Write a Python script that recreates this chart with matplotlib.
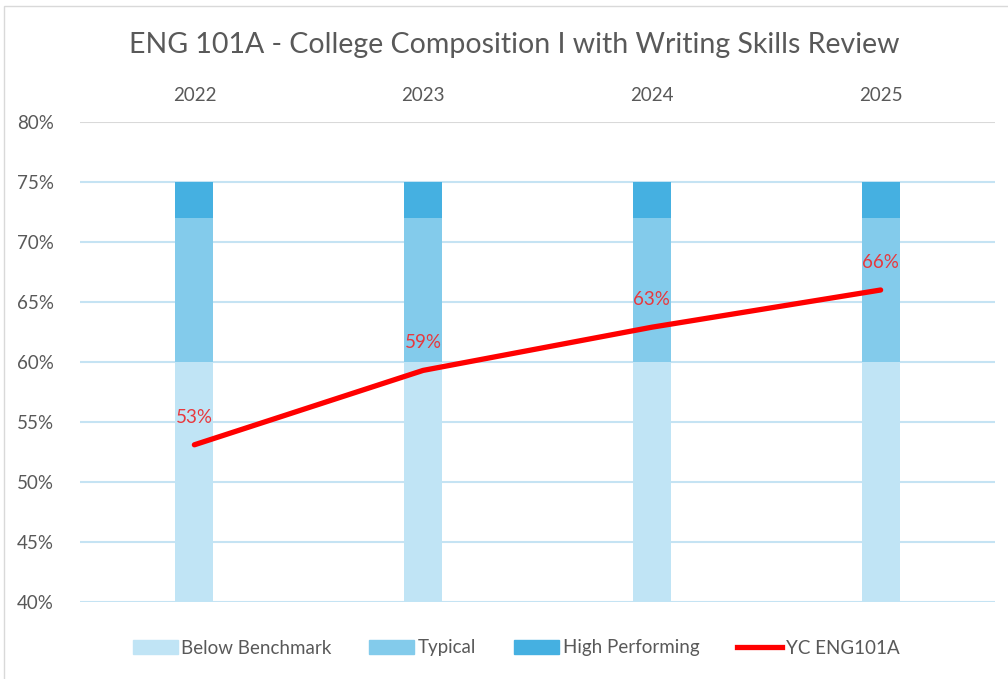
import numpy as np
import matplotlib
matplotlib.use("Agg")
import matplotlib.pyplot as plt
from matplotlib.patches import Rectangle
from matplotlib.lines import Line2D

plt.rcParams["font.family"] = ["Lato", "DejaVu Sans"]

years = ["2022", "2023", "2024", "2025"]
below = [60, 60, 60, 60]       # stacked from 0, axis starts at 40
typical = [12, 12, 12, 12]
high = [3, 3, 3, 3]
yc_eng = [53.1, 59.3, 62.9, 66.0]
yc_labels = ["53%", "59%", "63%", "66%"]

C_BELOW, C_TYP, C_HIGH = "#C0E4F5", "#83CBEB", "#45B0E1"
GRAY = "#595959"

fig = plt.figure(figsize=(10.08, 6.79), dpi=100)
ax = fig.add_axes([80/1008, 1-602/679, 915/1008, 480/679])

x = np.arange(len(years))
w = 0.166
ax.bar(x, below, w, color=C_BELOW, zorder=2, label="Below Benchmark")
ax.bar(x, typical, w, bottom=below, color=C_TYP, zorder=2, label="Typical")
ax.bar(x, high, w, bottom=np.add(below, typical), color=C_HIGH, zorder=2, label="High Performing")
ax.plot(x, yc_eng, color="#FF0000", lw=3.8, solid_capstyle="round", zorder=4, label="YC ENG101A")
for xi, v, t in zip(x, yc_eng, yc_labels):
    ax.annotate(t, (xi, v), xytext=(0, 20), textcoords="offset points",
                ha="center", va="center", color="#E8383D", fontsize=13.5, zorder=5)

ax.set_ylim(40, 80)
ax.set_xlim(-0.5, len(years) - 0.5)
ticks = np.arange(40, 81, 5)
ax.set_yticks(ticks)
ax.set_yticklabels([f"{t}%" for t in ticks], color=GRAY, fontsize=13.5)
for t in ticks:
    ax.axhline(t, color="#D9D9D9" if t == 80 else "#C5E3F3", lw=1.5, zorder=1)
ax.tick_params(axis="y", length=0, pad=19)
ax.xaxis.tick_top()
ax.set_xticks(x)
ax.set_xticklabels(years, color=GRAY, fontsize=13.5)
ax.tick_params(axis="x", length=0, pad=13)
for s in ax.spines.values():
    s.set_visible(False)

fig.text(514/1008, 1-45/679, "ENG 101A - College Composition I with Writing Skills Review",
         ha="center", va="center", color=GRAY, fontsize=20.5)

handles = [Rectangle((0, 0), 1, 1, color=C_BELOW), Rectangle((0, 0), 1, 1, color=C_TYP),
           Rectangle((0, 0), 1, 1, color=C_HIGH), Line2D([], [], color="#FF0000", lw=3.8)]
fig.legend(handles, ["Below Benchmark", "Typical", "High Performing", "YC ENG101A"],
           loc="center", bbox_to_anchor=(516/1008, 1-648/679), ncol=4, frameon=False,
           fontsize=13.5, labelcolor=GRAY, handlelength=2.4, handleheight=0.8,
           handletextpad=0.2, columnspacing=2.0)

fig.patches.append(Rectangle((4/1008, -0.01), 1.02, 1-6/679 + 0.01, transform=fig.transFigure,
                             fill=False, edgecolor="#D9D9D9", lw=1.0))
fig.savefig("out.png", dpi=100)
